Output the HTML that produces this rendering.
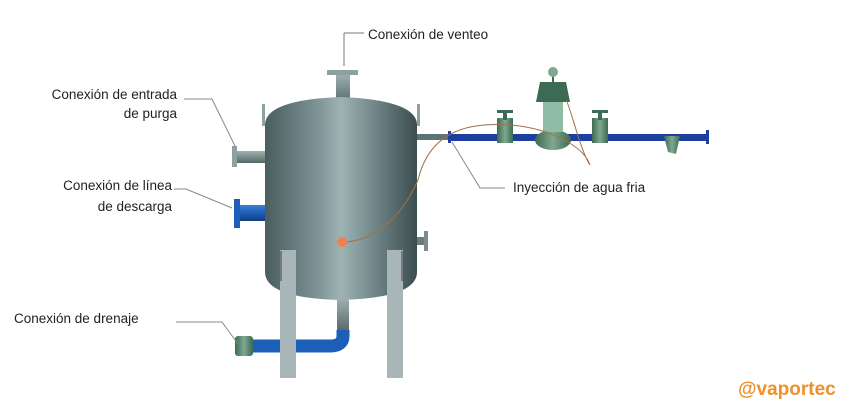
<!DOCTYPE html>
<html><head><meta charset="utf-8"><style>
body{margin:0;background:#fff}
svg{display:block}
text{font-family:"Liberation Sans",sans-serif;font-size:13.5px;fill:#222}
</style></head><body>
<svg width="851" height="401" viewBox="0 0 851 401">
<defs>
<linearGradient id="tk" x1="0" x2="1">
<stop offset="0" stop-color="#4a5d5f"/><stop offset="0.35" stop-color="#7e9496"/><stop offset="0.5" stop-color="#9fb3b3"/><stop offset="0.75" stop-color="#6a8082"/><stop offset="1" stop-color="#3c4d4f"/></linearGradient>
<linearGradient id="bl" x1="0" y1="0" x2="0" y2="1"><stop offset="0" stop-color="#3f7fd0"/><stop offset="0.5" stop-color="#1d5eb8"/><stop offset="1" stop-color="#123f80"/></linearGradient>
<linearGradient id="gr" x1="0" y1="0" x2="0" y2="1"><stop offset="0" stop-color="#9fb0b0"/><stop offset="1" stop-color="#56686a"/></linearGradient>
<linearGradient id="gv" x1="0" x2="1"><stop offset="0" stop-color="#3d6a52"/><stop offset="0.5" stop-color="#7fa890"/><stop offset="1" stop-color="#3d6a52"/></linearGradient>
</defs>
<!-- vent -->
<rect x="336" y="74" width="14" height="30" fill="url(#gr)"/>
<rect x="327" y="70" width="31" height="5" fill="#8fa0a0"/>
<line x1="344" y1="33" x2="344" y2="66" stroke="#777"/><line x1="344" y1="33" x2="364" y2="33" stroke="#777"/>
<!-- left pipes -->
<rect x="236" y="151" width="32" height="12" fill="url(#gr)"/>
<rect x="232" y="146" width="5" height="21" fill="#8fa0a0"/>
<rect x="238" y="205" width="30" height="16" fill="url(#bl)"/>
<rect x="234" y="199" width="6" height="29" fill="#1d5eb8"/>
<rect x="416" y="237" width="10" height="8" fill="#6a7c7c"/><rect x="424" y="231" width="4" height="20" fill="#7a8c8c"/>
<rect x="416" y="134" width="36" height="6" fill="#5d7272"/>
<rect x="262" y="104" width="3" height="22" fill="#8fa0a0"/><rect x="417" y="104" width="3" height="22" fill="#8fa0a0"/>
<!-- tank -->
<path d="M265 125 Q265 100 340 97 Q417 100 417 125 L417 272 Q417 298 340 300 Q265 298 265 272 Z" fill="url(#tk)"/>
<!-- drain -->
<rect x="337" y="298" width="12" height="34" fill="url(#gr)"/>
<path d="M343 330 L343 336 Q343 346 330 346 L250 346" stroke="#1d5eb8" stroke-width="13" fill="none"/>
<rect x="235" y="336" width="18" height="20" rx="3" fill="url(#gv)"/>
<!-- legs -->
<rect x="280" y="250" width="16" height="128" fill="#a8b6b8"/>
<rect x="387" y="250" width="16" height="128" fill="#a8b6b8"/>
<rect x="280" y="251" width="2" height="30" fill="#778"/><rect x="401" y="251" width="2" height="30" fill="#778"/>
<!-- right line -->
<rect x="450" y="134" width="258" height="7" fill="#1f3fa0"/>
<rect x="448" y="131" width="3" height="12" fill="#1f3fa0"/><rect x="706" y="130" width="3" height="14" fill="#1f3fa0"/>
<rect x="497" y="118" width="16" height="25" fill="url(#gv)"/><rect x="497" y="110" width="16" height="3" fill="#3d6a52"/><rect x="503" y="112" width="4" height="8" fill="#3d6a52"/>
<rect x="592" y="118" width="16" height="25" fill="url(#gv)"/><rect x="592" y="110" width="16" height="3" fill="#3d6a52"/><rect x="598" y="112" width="4" height="8" fill="#3d6a52"/>
<ellipse cx="553" cy="140" rx="18" ry="10" fill="url(#gv)"/>
<rect x="543" y="100" width="20" height="32" fill="#8fbca4"/>
<path d="M540 82 L566 82 L570 102 L536 102 Z" fill="#3d6a52"/>
<line x1="553" y1="74" x2="553" y2="84" stroke="#3d6a52" stroke-width="2"/>
<circle cx="553" cy="72" r="5" fill="#7fa890"/>
<path d="M664 136 L680 136 L676 154 L668 152 Z" fill="url(#gv)"/>
<path d="M418 180 C430 130 470 120 520 126 C560 132 585 150 590 165 C580 150 570 105 566 100" stroke="#a0704a" fill="none"/>
<path d="M345 242 C380 240 405 210 418 180" stroke="#a0704a" fill="none"/>
<circle cx="342" cy="242" r="5" fill="#f08050"/>
<!-- leaders -->
<polyline points="184,99 212,99 235,146" fill="none" stroke="#888"/>
<polyline points="174,189 186,189 232,208" fill="none" stroke="#888"/>
<polyline points="176,322 222,322 238,344" fill="none" stroke="#888"/>
<polyline points="452,142 480,188 505,188" fill="none" stroke="#888"/>
<text x="368" y="39">Conexión de venteo</text>
<text x="177" y="99" text-anchor="end">Conexión de entrada</text>
<text x="177" y="118" text-anchor="end">de purga</text>
<text x="172" y="190" text-anchor="end">Conexión de línea</text>
<text x="172" y="211" text-anchor="end">de descarga</text>
<text x="14" y="323">Conexión de drenaje</text>
<text x="513" y="192">Inyección de agua fria</text>
<text x="738" y="395" style="font-size:19px;font-weight:bold;fill:#f0902a">@vaportec</text>
</svg>
</body></html>
